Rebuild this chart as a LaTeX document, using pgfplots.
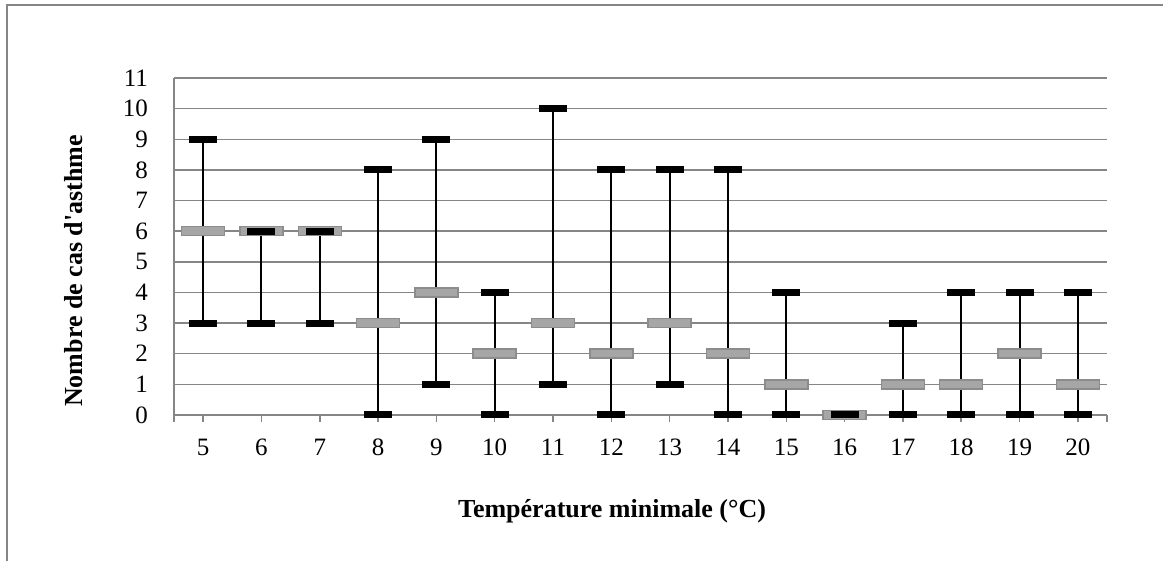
\documentclass[border=0pt]{standalone}
\usepackage{fontspec}
\setmainfont{Liberation Serif}
\usepackage{pgfplots}
\pgfplotsset{compat=1.18}
\usepackage{pgfplotstable}

\definecolor{gridgrey}{HTML}{868686}
\definecolor{boxfill}{HTML}{A6A6A6}
\definecolor{boxedge}{HTML}{8C8C8C}

% min / max ticks and median box
\pgfdeclareplotmark{blackbar}{\pgfpathrectangle{\pgfpoint{-7pt}{-1.75pt}}{\pgfpoint{14pt}{3.5pt}}\pgfusepathqfill}
\pgfdeclareplotmark{greybox}{\pgfpathrectangle{\pgfpoint{-10.75pt}{-2.25pt}}{\pgfpoint{21.5pt}{4.5pt}}\pgfusepathqfillstroke}

\pgfplotstableread{
T  lo hi med
5  3  9  6
6  3  6  6
7  3  6  6
8  0  8  3
9  1  9  4
10 0  4  2
11 1  10 3
12 0  8  2
13 1  8  3
14 0  8  2
15 0  4  1
16 0  0  0
17 0  3  1
18 0  4  1
19 0  4  2
20 0  4  1
}\asthme

\begin{document}
\begin{tikzpicture}
\useasboundingbox (0,0) rectangle (581.5pt,280.5pt);
\draw[gridgrey, line width=0.75pt] (3.5pt,0) -- (3.5pt,278pt) -- (581.5pt,278pt);
\begin{axis}[
  at={(87pt,73pt)}, anchor=south west,
  scale only axis, width=466.5pt, height=168.5pt,
  xmin=4.5, xmax=20.5, ymin=0, ymax=11,
  xtick={5,...,20}, ytick={0,...,11},
  extra x ticks={4.5,20.5}, extra x tick labels={},
  extra x tick style={grid=none},
  axis x line*=bottom, axis y line*=left,
  axis line style={-, draw=gridgrey, line width=0.75pt},
  ymajorgrids, grid style={draw=gridgrey, line width=0.75pt},
  xtick align=outside, major tick length=3.5pt,
  xtick style={draw=gridgrey, line width=0.75pt},
  ytick style={draw=none},
  tick label style={font=\fontsize{12.5}{14}\selectfont},
  /pgf/number format/assume math mode=true,
  xticklabel shift=5pt, yticklabel shift=9.5pt,
  clip=false,
]
% whiskers from min to max
\addplot[black, line width=1pt, mark=none, -,
  quiver={u value=0, v={\thisrow{hi}-\thisrow{lo}}}]
  table[x=T, y=lo] {\asthme};
\addplot[only marks, mark=greybox, mark options={fill=boxfill, draw=boxedge, line width=0.75pt}]
  table[x=T, y=med] {\asthme};
\addplot[only marks, mark=blackbar, mark options={fill=black}]
  table[x=T, y=hi] {\asthme};
\addplot[only marks, mark=blackbar, mark options={fill=black}]
  table[x=T, y=lo] {\asthme};
\end{axis}
\node[font=\fontsize{13}{15}\selectfont\bfseries] at (306pt,25pt) {Température minimale (°C)};
\node[font=\fontsize{13}{15}\selectfont\bfseries, rotate=90] at (37pt,145pt) {Nombre de cas d\textquotesingle asthme};
\end{tikzpicture}
\end{document}
